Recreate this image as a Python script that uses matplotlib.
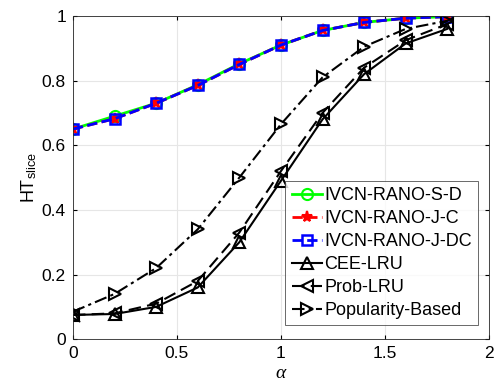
#!/usr/bin/env python3

import matplotlib

matplotlib.use("Agg")

import matplotlib.pyplot as plt
import numpy as np

plt.rcParams["font.family"] = ["Liberation Sans", "DejaVu Sans"]
plt.rcParams["mathtext.fontset"] = "custom"
plt.rcParams["mathtext.rm"] = "Liberation Sans"
plt.rcParams["mathtext.it"] = "Liberation Serif:italic"

alpha = [0.0, 0.2, 0.4, 0.6, 0.8, 1.0, 1.2, 1.4, 1.6, 1.8]

ivcn_s_d = [0.650, 0.690, 0.730, 0.787, 0.852, 0.910, 0.955, 0.980, 0.993, 0.998]
ivcn_j_c = [0.650, 0.682, 0.730, 0.785, 0.850, 0.910, 0.955, 0.980, 0.993, 0.998]
ivcn_j_dc = [0.650, 0.682, 0.730, 0.785, 0.850, 0.910, 0.955, 0.980, 0.993, 0.998]
cee_lru = [0.075, 0.078, 0.100, 0.160, 0.300, 0.490, 0.680, 0.820, 0.915, 0.960]
prob_lru = [0.075, 0.080, 0.110, 0.180, 0.330, 0.520, 0.700, 0.840, 0.925, 0.975]
popularity = [0.085, 0.140, 0.220, 0.340, 0.500, 0.665, 0.810, 0.905, 0.960, 0.985]

labels = [
    "IVCN-RANO-S-D",
    "IVCN-RANO-J-C",
    "IVCN-RANO-J-DC",
    "CEE-LRU",
    "Prob-LRU",
    "Popularity-Based",
]

fig = plt.figure(figsize=(5.03, 3.89), dpi=100)
ax = fig.add_axes([0.145, 0.128, 0.827, 0.831])

ax.plot(alpha, ivcn_s_d, color="#00ff00", linestyle="-", linewidth=2,
        marker="o", markersize=8, markerfacecolor="none", markeredgewidth=1.5,
        label=labels[0])
ax.plot(alpha, ivcn_j_c, color="red", linestyle="--", linewidth=2,
        marker="*", markersize=8, markeredgewidth=1.5, label=labels[1])
ax.plot(alpha, ivcn_j_dc, color="blue", linestyle="--", linewidth=2,
        marker="s", markersize=7, markerfacecolor="none", markeredgewidth=1.8,
        label=labels[2])
ax.plot(alpha, cee_lru, color="black", linestyle="-", linewidth=1.5,
        marker="^", markersize=9, markerfacecolor="none", markeredgewidth=1.5,
        label=labels[3])
ax.plot(alpha, prob_lru, color="black", linestyle=(0, (6, 3)), linewidth=1.5,
        marker="<", markersize=9, markerfacecolor="none", markeredgewidth=1.5,
        label=labels[4])
ax.plot(alpha, popularity, color="black", linestyle=(0, (6, 2, 1.5, 2)), linewidth=1.5,
        marker=">", markersize=9, markerfacecolor="none", markeredgewidth=1.5,
        label=labels[5])

ax.set_xlim(0, 2)
ax.set_ylim(0, 1)
ax.set_xticks(np.arange(0, 2.01, 0.5))
ax.set_xticklabels(["0", "0.5", "1", "1.5", "2"])
ax.set_yticks(np.arange(0, 1.01, 0.2))
ax.set_yticklabels(["0", "0.2", "0.4", "0.6", "0.8", "1"])
ax.tick_params(direction="in", top=True, right=True, labelsize=12.5, length=3, pad=5)
ax.grid(True, color="#e6e6e6", linewidth=0.8)
ax.set_axisbelow(True)
for spine in ax.spines.values():
    spine.set_color("#262626")
    spine.set_linewidth(0.6)

ax.set_xlabel(r"$\alpha$", fontsize=14, labelpad=3)
ax.set_ylabel(r"HT$_{\mathrm{slice}}$", fontsize=13, labelpad=2)

leg = ax.legend(loc="lower right", bbox_to_anchor=(0.974, 0.043), fontsize=13,
                frameon=True, fancybox=False, edgecolor="#262626",
                handlelength=1.7, handletextpad=0.1, borderpad=0.35,
                labelspacing=0.33, borderaxespad=0)
leg.get_frame().set_linewidth(0.6)

plt.savefig("out.png", dpi=100)
